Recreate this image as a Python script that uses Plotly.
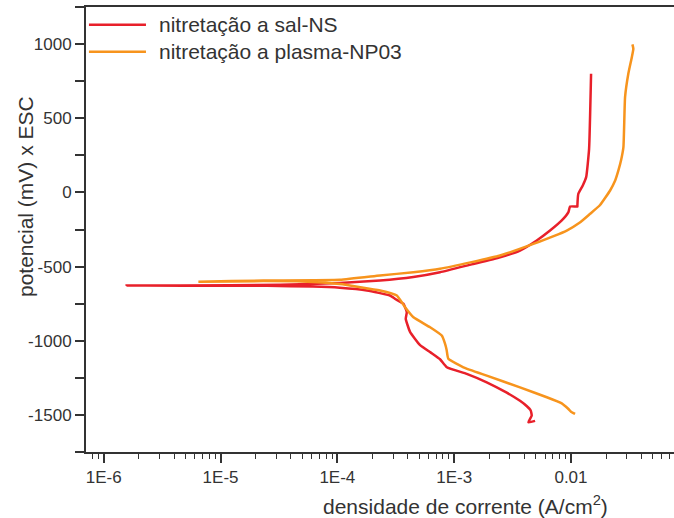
import plotly.graph_objects as go

# Polarization curves: current density (A/cm2) vs potential (mV vs SCE)
sal_current = [4.93e-3, 4.32e-3, 4.61e-3, 4.52e-3, 4.17e-3, 3.66e-3, 2.82e-3, 1.90e-3,
               1.28e-3, 8.65e-4, 7.57e-4, 6.31e-4, 5.11e-4, 4.19e-4, 3.85e-4, 3.93e-4,
               3.80e-4, 3.67e-4, 3.16e-4, 2.82e-4, 1.79e-4, 1.05e-4, 6.18e-5, 2.51e-5,
               1.0e-5, 1.57e-6, 4.50e-6, 3.24e-5, 1.05e-4, 2.32e-4, 4.47e-4, 7.57e-4,
               1.41e-3, 2.47e-3, 3.66e-3, 5.09e-3, 6.62e-3, 8.34e-3, 9.51e-3, 9.82e-3,
               1.135e-2, 1.135e-2, 1.156e-2, 1.262e-2, 1.349e-2, 1.429e-2, 1.486e-2]
sal_potential = [-1540, -1550, -1505, -1470, -1440, -1405, -1350, -1280,
                 -1223, -1179, -1125, -1080, -1030, -940, -852, -808,
                 -775, -750, -720, -695, -661, -643, -635, -630,
                 -629, -628, -628, -623, -610, -594, -570, -538,
                 -485, -437, -392, -324, -257, -189, -133, -95,
                 -95, -88, -9, 47, 103, 294, 800]

plasma_current = [1.084e-2, 1.0e-2, 9.51e-3, 8.91e-3, 8.34e-3, 6.21e-3, 3.66e-3, 1.90e-3,
                  1.20e-3, 8.91e-4, 8.61e-4, 8.36e-4, 7.83e-4, 6.22e-4, 4.48e-4, 3.80e-4,
                  3.23e-4, 2.32e-4, 1.05e-4, 5.01e-5, 2.32e-5, 6.46e-6, 2.32e-5, 1.05e-4,
                  2.32e-4, 4.48e-4, 7.57e-4, 1.41e-3, 2.47e-3, 4.76e-3, 9.20e-3, 1.183e-2,
                  1.459e-2, 1.774e-2, 2.163e-2, 2.39e-2, 2.547e-2, 2.69e-2, 2.812e-2,
                  2.904e-2, 3.097e-2, 3.319e-2, 3.420e-2, 3.357e-2]
plasma_potential = [-1493, -1478, -1460, -1440, -1422, -1381, -1314, -1235,
                    -1179, -1122, -1060, -1021, -965, -909, -842, -774,
                    -695, -661, -618, -600, -598, -602, -594, -589,
                    -560, -538, -515, -470, -425, -347, -257, -205,
                    -144, -85, 13, 80, 148, 220, 305,
                    642, 800, 912, 969, 998]

series_names = ["nitretação a sal-NS", "nitretação a plasma-NP03"]
series_colors = ["#E8202A", "#F7941D"]

x_tickvals = [1e-6, 1e-5, 1e-4, 1e-3, 1e-2]
x_ticktext = ["1E-6", "1E-5", "1E-4", "1E-3", "0.01"]
y_tickvals = [-1500, -1000, -500, 0, 500, 1000]
y_ticktext = ["-1500", "-1000", "-500", "0", "500", "1000"]

FONT = "Liberation Sans, Arial, sans-serif"
INK = "#333333"

fig = go.Figure()
for cur, pot, name, col in [(sal_current, sal_potential, series_names[0], series_colors[0]),
                            (plasma_current, plasma_potential, series_names[1], series_colors[1])]:
    fig.add_trace(go.Scatter(x=cur, y=pot, mode="lines", name=name, showlegend=False,
                             line=dict(color=col, width=2.5, shape="spline", smoothing=0.4)))

# minor ticks at 2..9 of each decade
minor_vals = [m * 10.0 ** k for k in range(-7, -1) for m in range(2, 10)]

fig.update_xaxes(type="log", range=[-6.152, -1.118],
                 tickmode="array", tickvals=x_tickvals, ticktext=x_ticktext,
                 ticks="outside", ticklen=9, tickwidth=1.5, tickcolor=INK,
                 minor=dict(tickmode="array", tickvals=minor_vals, ticks="outside",
                            ticklen=5, tickwidth=1.2, tickcolor=INK, showgrid=False),
                 showline=True, linecolor=INK, linewidth=2, mirror=True,
                 showgrid=False, zeroline=False,
                 tickfont=dict(family=FONT, size=17, color=INK))
fig.update_yaxes(range=[-1750, 1250],
                 tickmode="array", tickvals=y_tickvals, ticktext=y_ticktext,
                 ticks="outside", ticklen=9, tickwidth=1.5, tickcolor=INK,
                 minor=dict(dtick=250, tick0=0, ticks="outside", ticklen=9,
                            tickwidth=1.5, tickcolor=INK, showgrid=False),
                 showline=True, linecolor=INK, linewidth=2, mirror=False,
                 showgrid=False, zeroline=False,
                 tickfont=dict(family=FONT, size=17, color=INK))

# legend drawn by hand in the upper-left corner
legend_y = [0.960, 0.8996]
for name, col, ly in zip(series_names, series_colors, legend_y):
    fig.add_shape(type="line", xref="paper", yref="paper", x0=0.005, x1=0.102,
                  y0=ly, y1=ly, line=dict(color=col, width=2.5))
    fig.add_annotation(xref="paper", yref="paper", x=0.1207, y=ly, text=name,
                       showarrow=False, xanchor="left", yanchor="middle",
                       font=dict(family=FONT, size=21, color=INK))

fig.add_annotation(xref="paper", yref="paper", x=0.646, y=-0.119,
                   text="densidade de corrente (A/cm<sup>2</sup>)", showarrow=False,
                   xanchor="center", yanchor="middle",
                   font=dict(family=FONT, size=21, color=INK))
fig.add_annotation(xref="paper", yref="paper", x=-0.1037, y=0.573,
                   text="potencial (mV) x ESC", showarrow=False, textangle=-90,
                   xanchor="center", yanchor="middle",
                   font=dict(family=FONT, size=21, color=INK))

fig.update_layout(width=674, height=518, margin=dict(l=86, r=0, t=7, b=66),
                  paper_bgcolor="white", plot_bgcolor="white")

fig.write_html("out.html")
